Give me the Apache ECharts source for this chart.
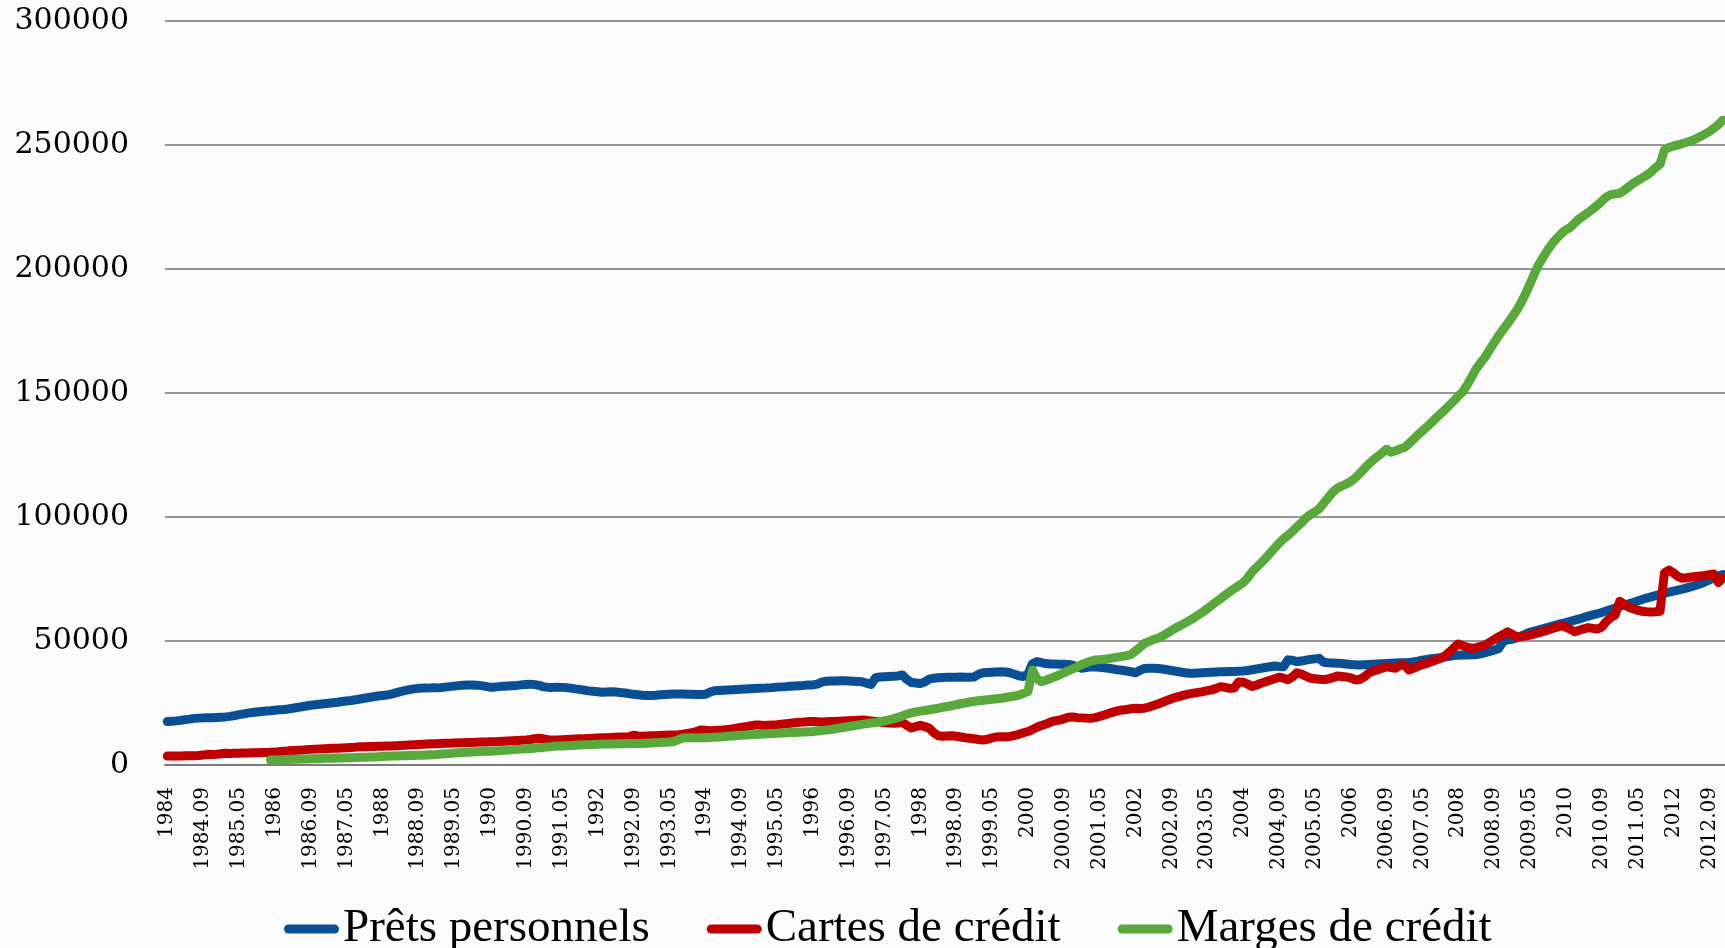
<!DOCTYPE html>
<html>
<head>
<meta charset="utf-8">
<script src="https://cdn.jsdelivr.net/npm/echarts@6/dist/echarts.min.js"></script>
<style>
    html, body { margin: 0; padding: 0; background: #fbfbfb; }
    #chart { width: 1725px; height: 948px; }
</style>
</head>
<body>
<div id="chart"></div>
<script>
// monthly series, 1984.01 - 2012.12
const startYear = 1984;
const endYear = 2012;

const tickLabels = [
    '1984', '1984.09', '1985.05', '1986', '1986.09', '1987.05', '1988', '1988.09', '1989.05',
    '1990', '1990.09', '1991.05', '1992', '1992.09', '1993.05', '1994', '1994.09', '1995.05',
    '1996', '1996.09', '1997.05', '1998', '1998.09', '1999.05', '2000', '2000.09', '2001.05',
    '2002', '2002.09', '2003.05', '2004', '2004,09', '2005.05', '2006', '2006.09', '2007.05',
    '2008', '2008.09', '2009.05', '2010', '2010.09', '2011.05', '2012', '2012.09'
];

const seriesNames = ['Prêts personnels', 'Cartes de crédit', 'Marges de crédit'];

const pretsPersonnels = [
    17500, 17600, 17800, 18000, 18300, 18500, 18800, 18900, 19000, 19100, 19100, 19200,
    19300, 19400, 19600, 19900, 20300, 20600, 20900, 21200, 21400, 21600, 21800, 21900,
    22100, 22300, 22400, 22600, 22900, 23200, 23500, 23800, 24100, 24300, 24500, 24700,
    24900, 25100, 25300, 25600, 25800, 26000, 26300, 26600, 26900, 27200, 27500, 27800,
    28000, 28200, 28600, 29100, 29600, 30000, 30400, 30700, 30900, 31000, 31000, 31100,
    31100, 31200, 31400, 31600, 31800, 32000, 32200, 32300, 32300, 32200, 32000, 31700,
    31400, 31400, 31600, 31800, 31900, 32000, 32100, 32300, 32500, 32600, 32400, 32100,
    31500, 31300, 31300, 31400, 31300, 31200, 31000, 30700, 30500, 30200, 29900, 29700,
    29500, 29300, 29400, 29500, 29400, 29200, 29000, 28800, 28500, 28300, 28100, 28000,
    28000, 28100, 28300, 28400, 28500, 28600, 28600, 28600, 28500, 28500, 28400, 28400,
    28500, 29300, 29900, 30000, 30100, 30200, 30300, 30400, 30500, 30600, 30700, 30800,
    30900, 31000, 31100, 31200, 31400, 31500, 31600, 31800, 31900, 32000, 32100, 32300,
    32300, 32600, 33400, 33800, 33900, 33900, 34000, 34000, 33900, 33800, 33700, 33600,
    33000, 32500, 35200, 35500, 35600, 35700, 35800, 35900, 36300, 34500, 33300, 33100,
    32900, 33500, 34600, 35000, 35200, 35300, 35400, 35400, 35400, 35500, 35400, 35400,
    35500, 36600, 37200, 37300, 37400, 37500, 37600, 37500, 37200, 36600, 36000, 35700,
    36500, 40800, 41700, 41300, 40900, 40700, 40700, 40600, 40600, 40500, 40200, 39600,
    39000, 39300, 39600, 39500, 39400, 39200, 39000, 38700, 38400, 38200, 37900, 37600,
    37200, 38200, 38900, 39000, 39000, 38900, 38700, 38400, 38100, 37800, 37500, 37200,
    37000, 37000, 37100, 37200, 37300, 37400, 37500, 37600, 37600, 37700, 37700, 37800,
    37900, 38100, 38400, 38700, 39000, 39300, 39600, 39900, 39700, 39600, 42400, 42200,
    41700, 41900, 42300, 42600, 42800, 43000, 41400, 41200, 41100, 41000, 40900, 40700,
    40500, 40400, 40300, 40400, 40500, 40600, 40700, 40800, 40900, 41000, 41100, 41200,
    41200, 41300, 41600, 41900, 42300, 42600, 42900, 43100, 43300, 43500, 43800, 44100,
    44300, 44400, 44400, 44500, 44500, 44800, 45300, 45800, 46300, 47000, 49800, 50500,
    50700, 51200, 52000, 52800, 53500, 54000, 54500, 55000, 55500, 56000, 56500, 57000,
    57400, 57900, 58400, 58900, 59500, 60000, 60500, 61000, 61500, 62100, 62700, 63300,
    63900, 64500, 65000, 65500, 66100, 66700, 67300, 67800, 68300, 68800, 69300, 69700,
    70100, 70500, 70900, 71400, 71900, 72500, 73100, 73800, 74600, 75500, 76300, 76800
];

const cartesCredit = [
    3600, 3600, 3600, 3600, 3700, 3700, 3700, 3800, 4000, 4300, 4200, 4300,
    4500, 4700, 4600, 4700, 4700, 4800, 4800, 4900, 4900, 5000, 5000, 5100,
    5200, 5400, 5500, 5700, 5800, 5900, 6000, 6200, 6300, 6400, 6500, 6600,
    6700, 6800, 6800, 6900, 7000, 7100, 7200, 7400, 7400, 7500, 7500, 7600,
    7600, 7700, 7700, 7800, 7900, 8000, 8100, 8200, 8300, 8400, 8500, 8600,
    8600, 8700, 8800, 8800, 8900, 9000, 9000, 9100, 9100, 9200, 9300, 9300,
    9400, 9400, 9500, 9600, 9700, 9800, 9900, 10000, 10100, 10300, 10600, 10800,
    10500, 10200, 10100, 10100, 10200, 10300, 10400, 10500, 10600, 10600, 10700, 10800,
    10900, 11000, 11000, 11100, 11200, 11300, 11300, 11400, 12000, 11700, 11600, 11700,
    11800, 11800, 11900, 12000, 12100, 12100, 12200, 12400, 12700, 13000, 13500, 14100,
    14000, 13800, 13900, 14000, 14100, 14300, 14500, 14800, 15100, 15400, 15800, 16100,
    16100, 15900, 16000, 16100, 16200, 16400, 16600, 16800, 17000, 17200, 17300, 17500,
    17500, 17400, 17300, 17400, 17500, 17500, 17600, 17700, 17800, 17900, 18000, 18100,
    18000, 17800, 17600, 17300, 17000, 16900, 16800, 16900, 17100, 16000, 14900, 15500,
    16000, 15500, 14800, 13000, 11800, 11600, 11700, 11800, 11600, 11300, 11000, 10800,
    10600, 10300, 10100, 10400, 10900, 11300, 11400, 11400, 11500, 11900, 12400, 13000,
    13500, 14300, 15200, 15900, 16500, 17300, 17800, 18100, 18600, 19300, 19400, 19100,
    19000, 18900, 18800, 19100, 19600, 20200, 20800, 21300, 21800, 22200, 22400, 22700,
    22900, 22800, 22900, 23400, 24000, 24600, 25300, 26000, 26700, 27300, 27800, 28300,
    28700, 29000, 29300, 29600, 30000, 30300, 30900, 31600, 31300, 30900, 31000, 33500,
    33400, 32600, 31700, 32200, 33000, 33600, 34200, 34800, 35400, 35000, 34400, 35500,
    37200, 36600, 35800, 35000, 34800, 34600, 34500, 34700, 35200, 35900, 35700, 35500,
    35100, 34300, 34500, 35500, 37000, 37800, 38400, 39000, 39600, 39300, 39000, 40200,
    40300, 38300, 39000, 39800, 40500, 41000, 41600, 42300, 43000, 43900, 45500, 47200,
    48800, 48100, 47500, 47000, 47300, 47800, 48400, 49500, 50600, 51700, 52600, 53700,
    52700, 51700, 51800, 52000, 52400, 52900, 53400, 53900, 54400, 55000, 55600, 56200,
    55600, 54700, 53700, 54300, 54900, 55400, 55100, 54800, 55600, 57800, 59500, 60500,
    66000, 64800, 63600, 63000, 62400, 62000, 61800, 61700, 61800, 62000, 77500, 78600,
    77500, 76000, 75300, 75500, 75800, 76000, 76200, 76400, 76700, 77000, 73600, 75300
];

// no data before 1985.12
const margesCredit = [
    null, null, null, null, null, null, null, null, null, null, null, null,
    null, null, null, null, null, null, null, null, null, null, null, 2000,
    2000, 2100, 2100, 2200, 2300, 2300, 2400, 2400, 2500, 2500, 2600, 2700,
    2700, 2700, 2800, 2800, 2900, 2900, 3000, 3100, 3100, 3200, 3200, 3300,
    3400, 3500, 3600, 3600, 3700, 3700, 3800, 3800, 3900, 3900, 4000, 4100,
    4200, 4400, 4500, 4600, 4800, 4900, 5000, 5100, 5200, 5300, 5400, 5500,
    5500, 5600, 5700, 5900, 6000, 6100, 6300, 6400, 6600, 6700, 6800, 7000,
    7100, 7300, 7500, 7700, 7700, 7800, 7900, 8000, 8100, 8200, 8200, 8300,
    8400, 8500, 8500, 8500, 8600, 8600, 8600, 8700, 8700, 8700, 8700, 8800,
    8900, 9000, 9100, 9200, 9300, 9500, 10200, 10900, 11000, 11000, 11000, 11000,
    11000, 11100, 11200, 11300, 11400, 11600, 11700, 11900, 12000, 12100, 12200, 12300,
    12400, 12500, 12600, 12700, 12800, 12900, 13000, 13100, 13100, 13200, 13300, 13400,
    13500, 13700, 13900, 14100, 14300, 14600, 14900, 15200, 15500, 15800, 16100, 16400,
    16700, 16900, 17100, 17400, 17800, 18200, 18600, 19200, 19800, 20500, 21000, 21400,
    21700, 22000, 22300, 22600, 22900, 23300, 23600, 23900, 24300, 24700, 25000, 25400,
    25700, 25900, 26100, 26300, 26500, 26700, 26900, 27200, 27500, 27800, 28200, 28900,
    29600, 38300, 34800, 33600, 34200, 34900, 35600, 36300, 37100, 38000, 38800, 39600,
    40500, 41200, 41900, 42300, 42500, 42700, 42900, 43200, 43500, 43800, 44100, 44600,
    46000, 47500, 49000, 49800, 50600, 51100, 52000, 53100, 54200, 55300, 56200, 57200,
    58200, 59300, 60500, 61700, 63000, 64400, 65800, 67100, 68500, 69800, 71100, 72300,
    73500, 75400, 77900, 79700, 81500, 83300, 85400, 87400, 89400, 91200, 92600, 94200,
    96000, 97600, 99600, 100900, 102100, 103400, 105600, 107800, 110000, 111600, 112500, 113300,
    114300, 115700, 117500, 119400, 121300, 123000, 124400, 125800, 127300, 126100, 126700, 127400,
    128000, 129600, 131300, 133100, 134700, 136300, 138000, 139800, 141500, 143200, 145000, 146800,
    148800, 150500, 153300, 156500, 159800, 162200, 164500, 167500, 170300, 173100, 175600, 178000,
    180600, 183200, 186400, 190000, 194000, 198200, 202000, 205000, 207800, 210400, 212400, 214300,
    215800, 216800, 218600, 220300, 221500, 222800, 224200, 225700, 227300, 229000, 230000, 230300,
    230500, 231700, 233100, 234500, 235600, 236700, 237800, 239100, 240900, 242200, 248000, 249000,
    249600, 250000, 250600, 251100, 251700, 252500, 253400, 254400, 255400, 256700, 258200, 260000
];

const colors = ['#0a4f94', '#c00000', '#58a83b'];

let months = [];
for (let y = startYear; y <= endYear; y++) {
    for (let m = 1; m <= 12; m++) {
        months.push(y + '.' + (m < 10 ? '0' + m : m));
    }
}

let chart = echarts.init(document.getElementById('chart'));

let makeSeries = (name, data, color) => ({
    name: name,
    type: 'line',
    data: data,
    color: color,
    symbol: 'none',
    lineStyle: {width: 9, cap: 'round', join: 'round', color: color}
});

let option = {
    animation: false,
    backgroundColor: '#fbfbfb',
    grid: {left: 165, right: 0, top: 21, bottom: 183},
    legend: {
        left: 284,
        top: 903,
        padding: 0,
        itemWidth: 55,
        itemHeight: 9,
        itemGap: 57,
        icon: 'path://M4.5,0 H50.5 A4.5,4.5 0 0 1 50.5,9 H4.5 A4.5,4.5 0 0 1 4.5,0 Z',
        textStyle: {fontFamily: 'Liberation Serif', fontSize: 47, color: '#000', lineHeight: 52, padding: [0, 0, 0, -1]},
        data: seriesNames
    },
    xAxis: {
        type: 'category',
        data: months,
        axisTick: {show: false},
        axisLine: {lineStyle: {color: '#7a7a7a', width: 2}},
        axisLabel: {
            interval: 7,
            rotate: 90,
            margin: 22,
            fontFamily: 'DejaVu Serif',
            fontSize: 20,
            color: '#000',
            formatter: (value, index) => tickLabels[index / 8]
        }
    },
    yAxis: {
        type: 'value',
        min: 0,
        max: 300000,
        interval: 50000,
        axisLine: {show: false},
        axisTick: {show: false},
        splitLine: {lineStyle: {color: '#777', width: 1.5}},
        axisLabel: {
            margin: 36,
            fontFamily: 'DejaVu Serif',
            fontSize: 30,
            color: '#000',
            formatter: value => String(value)
        }
    },
    series: [
        makeSeries(seriesNames[0], pretsPersonnels, colors[0]),
        makeSeries(seriesNames[1], cartesCredit, colors[1]),
        makeSeries(seriesNames[2], margesCredit, colors[2])
    ]
};

chart.setOption(option);
</script>
</body>
</html>
